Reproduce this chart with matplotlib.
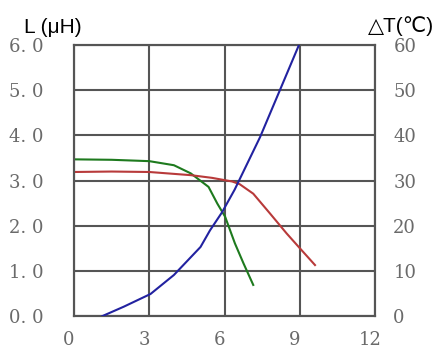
import matplotlib
matplotlib.use('Agg')
from matplotlib import pyplot as plt
from matplotlib.transforms import ScaledTranslation

# current (A) vs inductance L (uH) and temperature rise (C)
green_x = [0, 1.5, 3.0, 3.98, 4.65, 5.36, 5.71, 6.02, 6.41, 6.75, 7.14]
green_L = [3.47, 3.46, 3.43, 3.34, 3.16, 2.86, 2.49, 2.20, 1.61, 1.17, 0.69]

red_x = [0, 1.5, 3.0, 4.65, 5.5, 6.3, 6.6, 7.14, 7.81, 8.47, 9.0, 9.6]
red_L = [3.19, 3.20, 3.19, 3.12, 3.06, 2.98, 2.92, 2.71, 2.27, 1.83, 1.50, 1.13]

blue_x = [1.13, 1.99, 3.05, 3.98, 5.04, 5.42, 5.9, 6.4, 7.41, 8.17, 8.96]
blue_T = [0.0, 2.1, 4.9, 9.1, 15.3, 19.0, 23.0, 28.0, 39.6, 49.6, 60.0]

x_ticks = [0, 3, 6, 9, 12]
L_ticks = [0, 1, 2, 3, 4, 5, 6]
L_labels = ['0. 0', '1. 0', '2. 0', '3. 0', '4. 0', '5. 0', '6. 0']
T_ticks = [0, 10, 20, 30, 40, 50, 60]

fig = plt.figure(figsize=(4.47, 3.52), dpi=100)
ax = fig.add_axes([0.1655, 0.102, 0.674, 0.770])
ax2 = ax.twinx()

grid_col = '#555555'
tick_col = '#6a6a6a'
serif = ['DejaVu Serif']

ax.plot(green_x, green_L, color='#1e7a1e', lw=1.5, zorder=3, solid_joinstyle='round')
ax.plot(red_x, red_L, color='#b83a3a', lw=1.5, zorder=3, solid_joinstyle='round')
ax2.plot(blue_x, blue_T, color='#2222a0', lw=1.5, zorder=3, solid_joinstyle='round')

ax.set_xlim(0, 12)
ax.set_ylim(0, 6)
ax2.set_ylim(0, 60)

ax.set_xticks(x_ticks)
ax.set_xticklabels([str(v) for v in x_ticks], family=serif, fontsize=13, color=tick_col)
ax.set_yticks(L_ticks)
ax.set_yticklabels(L_labels, family=serif, fontsize=13, color=tick_col)
ax2.set_yticks(T_ticks)
ax2.set_yticklabels([str(v) for v in T_ticks], family=serif, fontsize=13, color=tick_col)

ax.tick_params(axis='x', length=0, pad=11)
ax.tick_params(axis='y', length=0, pad=22)
ax2.tick_params(axis='y', length=0, pad=13)
for a in (ax, ax2):
    for s in a.spines.values():
        s.set_color(grid_col)
        s.set_linewidth(1.5)

# bottom labels sit a little left of their grid lines
shift = ScaledTranslation(-5 / 100, 0, fig.dpi_scale_trans)
for lab in ax.get_xticklabels():
    lab.set_transform(lab.get_transform() + shift)

ax.grid(True, color=grid_col, lw=1.5)
ax.set_axisbelow(True)

sans = ['Liberation Sans', 'DejaVu Sans']
fig.text(0.054, 0.905, 'L (μH)', family=sans, fontsize=15, color='black')
fig.text(0.823, 0.908, '△T(℃)', family=sans, fontsize=15, color='black')

fig.savefig('out.png', dpi=100)
